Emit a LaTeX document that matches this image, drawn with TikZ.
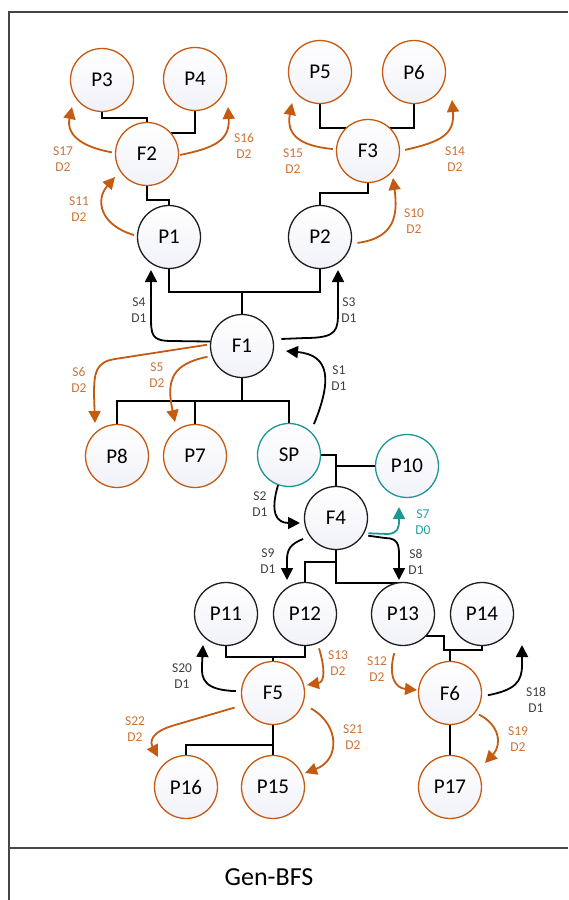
\documentclass[tikz,border=0pt]{standalone}
\usepackage{fontspec}
\setmainfont{Carlito}
\usetikzlibrary{arrows.meta,backgrounds}
\definecolor{org}{RGB}{197,90,17}
\definecolor{orgtxt}{RGB}{205,115,55}
\definecolor{teal1}{RGB}{30,150,150}
\definecolor{tealtxt}{RGB}{40,160,160}
\definecolor{dk}{RGB}{30,30,30}
\definecolor{lbl}{RGB}{64,64,64}
\definecolor{framecol}{RGB}{70,70,70}
\definecolor{shadebot}{RGB}{241,242,249}
\begin{document}
\begin{tikzpicture}[x=1pt,y=-1pt,
 proc/.style={circle, draw=dk, line width=1.3pt, minimum size=63pt, inner sep=0pt, top color=white, bottom color=shadebot, font=\fontsize{21}{23}\selectfont, text=black},
 oproc/.style={proc, draw=org},
 tproc/.style={proc, draw=teal1},
 treeline/.style={draw=black, line width=1.8pt},
 arr/.style={line width=1.8pt, -{Triangle[length=12pt,width=12pt]}},
 barr/.style={arr, draw=black},
 oarr/.style={arr, draw=org},
 tarr/.style={arr, draw=teal1},
 lab/.style={align=center, font=\fontsize{13.5}{15.5}\selectfont, text=lbl},
 olab/.style={lab, text=orgtxt},
 tlab/.style={lab, text=tealtxt},
]
\useasboundingbox (0,0) rectangle (568,900);
% frame
\draw[framecol, line width=1.3pt] (9,900) -- (9,12) -- (568,12);
\draw[framecol, line width=1.3pt] (9,848) -- (568,848);
\node[font=\fontsize{26}{29}\selectfont, text=black] (title) at (269,877) {Gen-BFS};

% nodes
\node[oproc] (P3) at (102,80) {P3};
\node[oproc] (P4) at (195,79) {P4};
\node[oproc] (F2) at (147,154) {F2};
\node[proc]  (P1) at (169,237) {P1};
\node[oproc] (P5) at (320,72) {P5};
\node[oproc] (P6) at (414,72) {P6};
\node[oproc] (F3) at (368,151) {F3};
\node[proc]  (P2) at (320,237) {P2};
\node[proc]  (F1) at (242,346) {F1};
\node[oproc] (P8) at (117,456) {P8};
\node[oproc] (P7) at (195,456) {P7};
\node[tproc] (SP) at (289,455) {SP};
\node[tproc] (P10) at (407,466) {P10};
\node[proc]  (F4) at (336,518) {F4};
\node[proc]  (P11) at (226,614) {P11};
\node[proc]  (P12) at (305,614) {P12};
\node[proc]  (P13) at (403,614) {P13};
\node[proc]  (P14) at (482,614) {P14};
\node[oproc] (F5) at (273,693) {F5};
\node[oproc] (F6) at (450,693) {F6};
\node[oproc] (P16) at (186,787) {P16};
\node[oproc] (P15) at (273,787) {P15};
\node[oproc] (P17) at (450,787) {P17};

% tree lines
\begin{pgfonlayer}{background}
\draw[treeline] (P1.south) -- ++(0,23) -| (P2.south);
\draw[treeline] (F1.north) -- ++(0,-22);
\draw[treeline] (F2.south) -- ++(0,14) -| (P1.north);
\draw[treeline] (P3.south) -- ++(0,6) -| (F2.north);
\draw[treeline] (P4.south) |- (F2.41);
\draw[treeline] (P5.south) -- ++(0,24) -| (P6.south);
\draw[treeline] (F3.south) -- ++(0,10) -| (P2.north);
\draw[treeline] (F1.south) -- ++(0,23);
\draw[treeline] (P8.north) -- ++(0,-23) -| (SP.north);
\draw[treeline] (P7.north) -- ++(0,-23);
\draw[treeline] (SP.east) -| (F4.north);
\draw[treeline] (P10.west) -- (P10.west -| F4.north);
\draw[treeline] (F4.south) -- ++(0,12) -| (P12.north);
\draw[treeline] (F4.south) -- ++(0,33) -| (P13.north);
\draw[treeline] (P11.south) -- ++(0,11) -| (P12.south);
\draw[treeline] (F5.north) -- ++(0,-5);
\draw[treeline] (P13.-44) -- ++(18,0) -- ++(0,14) -| (P14.south);
\draw[treeline] (F6.north) -- ++(0,-11);
\draw[treeline] (F5.south) -- ++(0,20) -| (P16.north);
\draw[treeline] (F5.south) -- (P15.north);
\draw[treeline] (F6.south) -- (P17.north);
\end{pgfonlayer}

% arrow tips
\coordinate (s4) at (151,270);
\coordinate (s3) at (338,270);
\coordinate (s1) at (286,351);
\coordinate (s2) at (300,523);
\coordinate (s9) at (287,580);
\coordinate (s8) at (399,580);
\coordinate (s7) at (399,507);
\coordinate (s20) at (203,645);
\coordinate (s18) at (522,645);
\coordinate (s11) at (115,177);
\coordinate (s17) at (72,107);
\coordinate (s16) at (228,107);
\coordinate (s15) at (292,103);
\coordinate (s14) at (452,100);
\coordinate (s10) at (393,178);
\coordinate (s6) at (95,423);
\coordinate (s5) at (175,422);
\coordinate (s13) at (307,685);
\coordinate (s12) at (417,690);
\coordinate (s22) at (158,757);
\coordinate (s21) at (305,773);
\coordinate (s19) at (485,763);

% black arrows
\draw[barr] (F1.172) -- (172,341) .. controls (151,341) and (151,335) .. (151,315) -- (s4);
\draw[barr, shorten <=8pt] (F1.12) -- (305,338) .. controls (338,338) and (338,330) .. (338,310) -- (s3);
\draw[barr, shorten <=8pt] (SP.47) .. controls (332,380) and (330,355) .. (s1);
\draw[barr] (SP.250) .. controls (270,512) and (276,523) .. (s2);
\draw[barr, shorten <=7pt] (F4.215) .. controls (290,544) and (287,550) .. (287,560) -- (s9);
\draw[barr, shorten <=5pt] (F4.-32) -- (385,538) .. controls (398,538) and (399,545) .. (399,555) -- (s8);
\draw[barr, shorten <=5pt] (F5.177) .. controls (205,690) and (201,680) .. (202,665) -- (s20);
\draw[barr, shorten <=6pt] (F6.-6) .. controls (515,690) and (522,682) .. (522,665) -- (s18);
% teal arrow
\draw[tarr, shorten <=4pt] (F4.-28) -- (388,534) .. controls (398,533) and (399,528) .. (399,520) -- (s7);
% orange arrows
\draw[oarr, shorten <=3pt] (P1.178) .. controls (100,225) and (95,200) .. (s11);
\draw[oarr, shorten <=3pt] (F2.178) .. controls (82,147) and (66,135) .. (s17);
\draw[oarr, shorten <=1pt] (F2.-2) .. controls (215,148) and (230,140) .. (s16);
\draw[oarr, shorten <=3pt] (F3.177) .. controls (300,146) and (286,135) .. (s15);
\draw[oarr, shorten <=5pt] (F3.0) .. controls (440,142) and (455,135) .. (s14);
\draw[oarr, shorten <=6pt] (P2.-12) .. controls (395,238) and (398,215) .. (s10);
\draw[oarr, shorten <=3pt] (F1.177) -- (115,359) .. controls (96,362) and (94,372) .. (94,395) -- (s6);
\draw[oarr, shorten <=4pt] (F1.198) .. controls (172,364) and (166,380) .. (s5);
\draw[oarr, shorten <=5pt] (P12.-67) .. controls (325,668) and (325,682) .. (s13);
\draw[oarr, shorten <=8pt] (P13.-102) .. controls (388,676) and (395,688) .. (s12);
\draw[oarr, shorten <=9pt] (F5.-158) -- (175,725) .. controls (150,732) and (150,742) .. (s22);
\draw[oarr, shorten <=9pt] (F5.-20) .. controls (340,725) and (340,760) .. (s21);
\draw[oarr, shorten <=4pt] (F6.-38) .. controls (500,725) and (502,745) .. (s19);

% labels
\node[lab] (l4) at (139,310) {S4\\D1};
\node[lab] (l3) at (349,310) {S3\\D1};
\node[lab] (l1) at (339,378) {S1\\D1};
\node[lab] (l2) at (260,504) {S2\\D1};
\node[lab] (l9) at (268,561) {S9\\D1};
\node[lab] (l8) at (416,562) {S8\\D1};
\node[tlab] (l7) at (423,522) {S7\\D0};
\node[lab] (l20) at (182,676) {S20\\D1};
\node[lab] (l18) at (536,700) {S18\\D1};
\node[olab] (l11) at (79,209) {S11\\D2};
\node[olab] (l17) at (63,159) {S17\\D2};
\node[olab] (l16) at (244,146) {S16\\D2};
\node[olab] (l15) at (293,161) {S15\\D2};
\node[olab] (l14) at (455,159) {S14\\D2};
\node[olab] (l10) at (414,221) {S10\\D2};
\node[olab] (l6) at (79,380) {S6\\D2};
\node[olab] (l5) at (157,375) {S5\\D2};
\node[olab] (l13) at (338,663) {S13\\D2};
\node[olab] (l12) at (377,669) {S12\\D2};
\node[olab] (l22) at (135,729) {S22\\D2};
\node[olab] (l21) at (353,737) {S21\\D2};
\node[olab] (l19) at (518,739) {S19\\D2};
\end{tikzpicture}
\end{document}
